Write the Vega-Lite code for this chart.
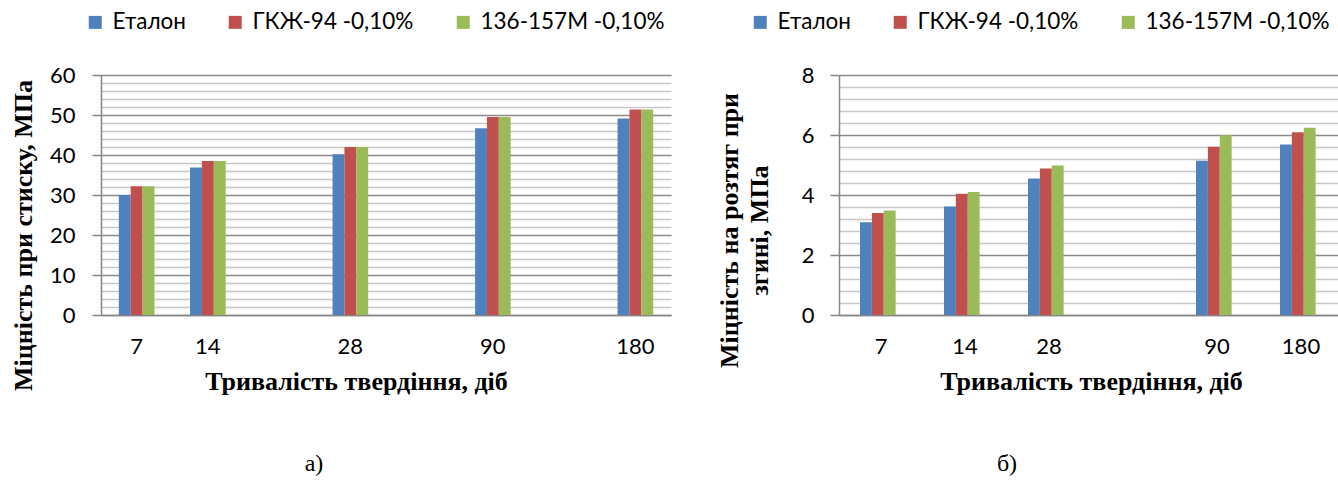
{
  "$schema": "https://vega.github.io/schema/vega-lite/v6.json",
  "background": "white",
  "padding": {"left": 10, "top": 11, "right": 0, "bottom": 0},
  "spacing": 45,
  "config": {
    "view": {"stroke": null},
    "font": "Lato",
    "axis": {"labelColor": "black", "titleColor": "black", "domainColor": "#868686", "domainWidth": 1.5, "labelFont": "Lato", "labelFontSize": 22, "titleFont": "Liberation Serif", "titleFontWeight": "bold", "titleFontSize": 26},
    "legend": {"labelFont": "Lato", "labelFontSize": 22.5, "labelColor": "black", "labelLimit": 400, "symbolType": "square", "symbolSize": 169, "symbolStrokeWidth": 0, "labelOffset": 6, "columnPadding": 38, "direction": "horizontal", "orient": "none"}
  },
  "datasets": {
    "d": [
      {"panel": "a", "day": "7", "series": "Еталон", "value": 30.0},
      {"panel": "a", "day": "7", "series": "ГКЖ-94 -0,10%", "value": 32.2},
      {"panel": "a", "day": "7", "series": "136-157М -0,10%", "value": 32.2},
      {"panel": "a", "day": "14", "series": "Еталон", "value": 36.9},
      {"panel": "a", "day": "14", "series": "ГКЖ-94 -0,10%", "value": 38.5},
      {"panel": "a", "day": "14", "series": "136-157М -0,10%", "value": 38.5},
      {"panel": "a", "day": "28", "series": "Еталон", "value": 40.2},
      {"panel": "a", "day": "28", "series": "ГКЖ-94 -0,10%", "value": 42.0},
      {"panel": "a", "day": "28", "series": "136-157М -0,10%", "value": 42.0},
      {"panel": "a", "day": "90", "series": "Еталон", "value": 46.7},
      {"panel": "a", "day": "90", "series": "ГКЖ-94 -0,10%", "value": 49.5},
      {"panel": "a", "day": "90", "series": "136-157М -0,10%", "value": 49.5},
      {"panel": "a", "day": "180", "series": "Еталон", "value": 49.1},
      {"panel": "a", "day": "180", "series": "ГКЖ-94 -0,10%", "value": 51.4},
      {"panel": "a", "day": "180", "series": "136-157М -0,10%", "value": 51.4},
      {"panel": "b", "day": "7", "series": "Еталон", "value": 3.09},
      {"panel": "b", "day": "7", "series": "ГКЖ-94 -0,10%", "value": 3.40},
      {"panel": "b", "day": "7", "series": "136-157М -0,10%", "value": 3.48},
      {"panel": "b", "day": "14", "series": "Еталон", "value": 3.62},
      {"panel": "b", "day": "14", "series": "ГКЖ-94 -0,10%", "value": 4.04},
      {"panel": "b", "day": "14", "series": "136-157М -0,10%", "value": 4.10},
      {"panel": "b", "day": "28", "series": "Еталон", "value": 4.55},
      {"panel": "b", "day": "28", "series": "ГКЖ-94 -0,10%", "value": 4.88},
      {"panel": "b", "day": "28", "series": "136-157М -0,10%", "value": 4.98},
      {"panel": "b", "day": "90", "series": "Еталон", "value": 5.14},
      {"panel": "b", "day": "90", "series": "ГКЖ-94 -0,10%", "value": 5.61},
      {"panel": "b", "day": "90", "series": "136-157М -0,10%", "value": 5.99},
      {"panel": "b", "day": "180", "series": "Еталон", "value": 5.68},
      {"panel": "b", "day": "180", "series": "ГКЖ-94 -0,10%", "value": 6.09},
      {"panel": "b", "day": "180", "series": "136-157М -0,10%", "value": 6.24}
    ]
  },
  "resolve": {"legend": {"color": "independent"}, "scale": {"x": "independent", "y": "independent"}},
  "hconcat": [
    {
      "width": 570,
      "height": 240,
      "data": {"name": "d"},
      "transform": [{"filter": "datum.panel === 'a'"}],
      "title": {"text": "а)", "orient": "bottom", "anchor": "middle", "frame": "group", "dx": -72, "offset": 58, "font": "Liberation Serif", "fontSize": 24, "fontWeight": "normal", "color": "black"},
      "mark": {"type": "bar"},
      "encoding": {
        "x": {"field": "day", "type": "nominal", "scale": {"domain": ["7", "14", " ", "28", "  ", "90", "   ", "180"], "paddingInner": 0.5, "paddingOuter": 0.25},
          "axis": {"ticks": false, "labelAngle": 0, "labelPadding": 21, "grid": false, "title": "Тривалість твердіння, діб", "titlePadding": 11, "titleX": 255}},
        "xOffset": {"field": "series", "type": "nominal", "sort": ["Еталон", "ГКЖ-94 -0,10%", "136-157М -0,10%"], "scale": {"paddingInner": 0, "paddingOuter": 0}},
        "y": {"field": "value", "type": "quantitative", "scale": {"domain": [0, 60], "nice": false},
          "axis": {"values": [0,2,4,6,8,10,12,14,16,18,20,22,24,26,28,30,32,34,36,38,40,42,44,46,48,50,52,54,56,58,60],
            "labelExpr": "datum.value % 10 === 0 ? datum.label : ''",
            "grid": true, "gridWidth": 1.5,
            "gridColor": {"condition": {"test": "datum.value % 10 === 0", "value": "#8a8a8a"}, "value": "#c8c8c8"},
            "tickColor": {"condition": {"test": "datum.value % 10 === 0", "value": "#868686"}, "value": "transparent"},
            "tickSize": 9, "tickWidth": 1.5, "labelPadding": 17,
            "title": "Міцність при стиску, МПа", "titlePadding": 13, "titleY": 160}},
        "color": {"field": "series", "type": "nominal", "sort": ["Еталон", "ГКЖ-94 -0,10%", "136-157М -0,10%"],
          "scale": {"domain": ["Еталон", "ГКЖ-94 -0,10%", "136-157М -0,10%"], "range": ["#4F81BD", "#C0504D", "#9BBB59"]},
          "legend": {"title": null, "orient": "none", "legendX": -17, "legendY": -64, "direction": "horizontal"}}
      }
    },
    {
      "width": 504,
      "height": 240,
      "data": {"name": "d"},
      "transform": [{"filter": "datum.panel === 'b'"}],
      "title": {"text": "б)", "orient": "bottom", "anchor": "middle", "frame": "group", "dx": -84, "offset": 58, "font": "Liberation Serif", "fontSize": 24, "fontWeight": "normal", "color": "black"},
      "mark": {"type": "bar"},
      "encoding": {
        "x": {"field": "day", "type": "nominal", "scale": {"domain": ["7", "14", "28", " ", "90", "180"], "paddingInner": 0.5, "paddingOuter": 0.25},
          "axis": {"ticks": false, "labelAngle": 0, "labelPadding": 21, "grid": false, "title": "Тривалість твердіння, діб", "titlePadding": 11}},
        "xOffset": {"field": "series", "type": "nominal", "sort": ["Еталон", "ГКЖ-94 -0,10%", "136-157М -0,10%"], "scale": {"paddingInner": 0, "paddingOuter": 0}},
        "y": {"field": "value", "type": "quantitative", "scale": {"domain": [0, 8], "nice": false},
          "axis": {"values": [0,0.4,0.8,1.2,1.6,2,2.4,2.8,3.2,3.6,4,4.4,4.8,5.2,5.6,6,6.4,6.8,7.2,7.6,8],
            "format": "~g",
            "labelExpr": "datum.value % 2 === 0 ? datum.label : ''",
            "grid": true, "gridWidth": 1.5,
            "gridColor": {"condition": {"test": "datum.value % 2 === 0", "value": "#8a8a8a"}, "value": "#c8c8c8"},
            "tickColor": {"condition": {"test": "datum.value % 2 === 0", "value": "#868686"}, "value": "transparent"},
            "tickSize": 9, "tickWidth": 1.5, "labelPadding": 16,
            "title": ["Міцність на розтяг при", "згині, МПа"], "titleLineHeight": 30, "titlePadding": 29, "titleY": 155}},
        "color": {"field": "series", "type": "nominal", "sort": ["Еталон", "ГКЖ-94 -0,10%", "136-157М -0,10%"],
          "scale": {"domain": ["Еталон", "ГКЖ-94 -0,10%", "136-157М -0,10%"], "range": ["#4F81BD", "#C0504D", "#9BBB59"]},
          "legend": {"title": null, "orient": "none", "legendX": -90, "legendY": -64, "direction": "horizontal"}}
      }
    }
  ]
}
